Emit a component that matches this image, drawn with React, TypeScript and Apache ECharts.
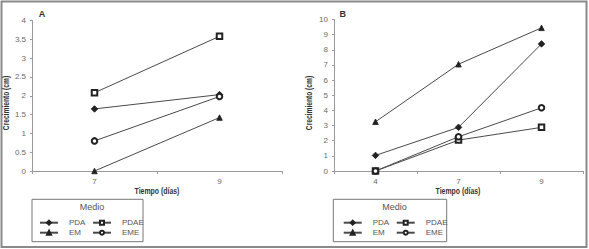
import React, { useEffect, useRef } from "react";
import * as echarts from "echarts";

const daysA = ["7", "9"];
const daysB = ["4", "7", "9"];

const pdaA = [1.65, 2.03];
const pdaeA = [2.08, 3.58];
const emA = [0, 1.42];
const emeA = [0.8, 1.98];

const pdaB = [1.03, 2.88, 8.39];
const pdaeB = [0, 2.04, 2.88];
const emB = [3.25, 7.05, 9.45];
const emeB = [0, 2.26, 4.17];

const seriesNames = ["PDA", "PDAE", "EM", "EME"];
const seriesSymbols = ["diamond", "emptyRect", "triangle", "emptyCircle"];

const yTitle = "Crecimiento (cm)";
const xTitle = "Tiempo (días)";
const legendTitle = "Medio";

const NARROW = "'Liberation Sans Narrow', 'Arial Narrow', 'Liberation Sans', Arial, sans-serif";

export default function App() {
  const ref = useRef<HTMLDivElement>(null);

  useEffect(() => {
    if (!ref.current) return;
    const chart = echarts.init(ref.current, undefined, { renderer: "svg" });

    const axisLineStyle = { color: "#9a9a9a", width: 1 };
    const tickLabel = { color: "#6a6a6a", fontSize: 8, fontFamily: NARROW };

    const mkX = (idx: number, cats: string[]) => ({
      type: "category",
      gridIndex: idx,
      data: cats,
      boundaryGap: true,
      axisLine: { lineStyle: axisLineStyle },
      axisTick: { show: true, length: 3, lineStyle: axisLineStyle },
      axisLabel: { ...tickLabel, margin: 6 },
      splitLine: { show: false },
    });

    const mkY = (idx: number, max: number, interval: number) => ({
      type: "value",
      gridIndex: idx,
      min: 0,
      max,
      interval,
      axisLine: { show: true, lineStyle: axisLineStyle },
      axisTick: { show: true, length: 2, lineStyle: axisLineStyle },
      axisLabel: { ...tickLabel, margin: 6 },
      splitLine: { show: false },
    });

    const dataA = [pdaA, pdaeA, emA, emeA];
    const dataB = [pdaB, pdaeB, emB, emeB];

    const mkSeries = (idx: number, data: number[][]) =>
      seriesNames.map((name, i) => ({
        type: "line",
        name,
        xAxisIndex: idx,
        yAxisIndex: idx,
        data: data[i],
        symbol: seriesSymbols[i],
        symbolSize: i === 0 ? 6.5 : 5.5,
        lineStyle: { color: "#4a4a4a", width: 1 },
        itemStyle: { color: "#222", borderColor: "#222", borderWidth: 0.9 },
        emphasis: { disabled: true },
      }));

    const mkLegend = (left: number, padLeft: number) => ({
      left,
      top: 199.3,
      orient: "horizontal",
      width: 113,
      data: seriesNames,
      itemWidth: 18,
      itemHeight: 5,
      itemGap: 0,
      padding: [18.4, -2, 4, padLeft],
      borderColor: "#777",
      borderWidth: 1,
      selectedMode: false,
      textStyle: {
        color: "#555",
        fontSize: 8,
        fontFamily: NARROW,
        width: 23,
        lineHeight: 10,
        padding: [0, 0, 0, 6],
        overflow: "none",
      },
    });

    const txt = (
      text: string,
      x: number,
      y: number,
      bold: boolean,
      color: string,
      extra: Record<string, unknown> = {}
    ) => ({
      type: "text",
      x,
      y,
      ...extra,
      style: {
        text,
        fontSize: 9,
        fontWeight: bold ? "bold" : "normal",
        fontFamily: NARROW,
        fill: color,
        align: "center",
        verticalAlign: "middle",
      },
    });

    const condensed = { scaleX: 0.77 };
    const vertical = { rotation: Math.PI / 2, scaleX: 0.74 };

    chart.setOption({
      animation: false,
      backgroundColor: "#fff",
      grid: [
        { left: 32, top: 20.5, width: 250, height: 150.5 },
        { left: 334, top: 19.5, width: 249, height: 151.5 },
      ],
      xAxis: [mkX(0, daysA), mkX(1, daysB)],
      yAxis: [mkY(0, 4, 0.5), mkY(1, 10, 1)],
      legend: [mkLegend(32, 7), mkLegend(333.3, 9.4)],
      series: [...mkSeries(0, dataA), ...mkSeries(1, dataB)],
      graphic: [
        {
          type: "rect",
          shape: { x: 1.5, y: 1.5, width: 585, height: 245.5 },
          style: { fill: "none", stroke: "#8a8a8a", lineWidth: 2 },
          silent: true,
        },
        txt("A", 42, 14, true, "#333"),
        txt("B", 342.7, 14, true, "#333"),
        txt(yTitle, 6.5, 103, true, "#333", vertical),
        txt(yTitle, 309.5, 103, true, "#333", vertical),
        txt(xTitle, 157, 190.7, true, "#333", condensed),
        txt(xTitle, 458, 190.7, true, "#333", condensed),
        txt(legendTitle, 92, 206.7, false, "#555"),
        txt(legendTitle, 394.5, 206.7, false, "#555"),
      ],
    });

    return () => chart.dispose();
  }, []);

  return (
    <div
      ref={ref}
      style={{ position: "absolute", left: 0, top: 0, width: 589, height: 249 }}
    />
  );
}
